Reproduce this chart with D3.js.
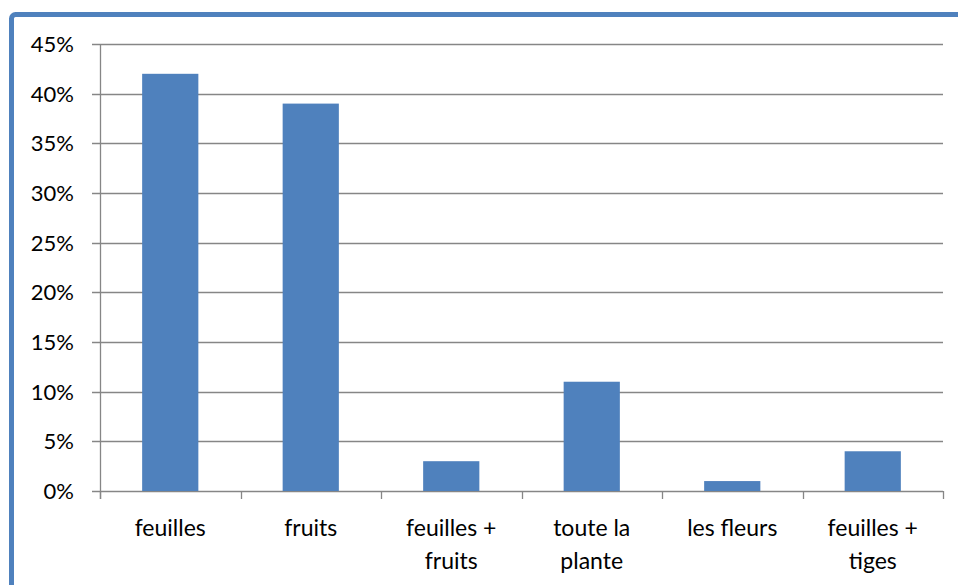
<!DOCTYPE html>
<html>
<head>
<meta charset="utf-8">
<script src="https://cdn.jsdelivr.net/npm/d3@7"></script>
<style>
  body { margin: 0; background: #fff; }
  text { font-family: Lato, "Open Sans", sans-serif; fill: #000; }
</style>
</head>
<body>
<div id="chart"></div>
<script>
const width = 958;
const height = 585;

const categories = [["feuilles"], ["fruits"], ["feuilles +", "fruits"], ["toute la", "plante"], ["les fleurs"], ["feuilles +", "tiges"]];
const values = [0.42, 0.39, 0.03, 0.11, 0.01, 0.04];
const yTicks = [0, 0.05, 0.10, 0.15, 0.20, 0.25, 0.30, 0.35, 0.40, 0.45];

const margin = { top: 44, right: 15, bottom: 94, left: 100 };

const svg = d3.select('#chart')
    .append('svg')
    .attr('width', width)
    .attr('height', height);

// frame (only top and left visible, rest runs off the page)
svg.append('rect')
    .attr('x', 11.5)
    .attr('y', 14.5)
    .attr('width', 1000)
    .attr('height', 1000)
    .attr('rx', 4)
    .attr('fill', 'none')
    .attr('stroke', '#4F81BD')
    .attr('stroke-width', 5);

const x = d3.scaleBand()
    .domain(d3.range(categories.length))
    .range([margin.left, width - margin.right])
    .paddingInner(0.6)
    .paddingOuter(0.3);

const xCat = d3.scaleBand()
    .domain(d3.range(categories.length))
    .range([margin.left, width - margin.right]);

const y = d3.scaleLinear()
    .domain([0, 0.45])
    .range([height - margin.bottom, margin.top]);

// gridlines
svg.append('g')
    .selectAll('line')
    .data(yTicks)
    .enter()
    .append('line')
    .attr('x1', margin.left - 8)
    .attr('x2', width - margin.right)
    .attr('y1', d => Math.round(y(d)) + 0.5)
    .attr('y2', d => Math.round(y(d)) + 0.5)
    .attr('stroke', '#868686')
    .attr('stroke-width', 1.3);

// bars
svg.append('g')
    .selectAll('rect')
    .data(values)
    .enter()
    .append('rect')
    .attr('x', (d, i) => x(i))
    .attr('y', d => y(d))
    .attr('width', x.bandwidth())
    .attr('height', d => y(0) - y(d))
    .attr('fill', '#4F81BD');

// y axis line
svg.append('line')
    .attr('x1', margin.left + 0.5)
    .attr('x2', margin.left + 0.5)
    .attr('y1', y(0.45))
    .attr('y2', y(0) + 8)
    .attr('stroke', '#868686')
    .attr('stroke-width', 1.3);

// x category ticks
const xTickPos = d3.range(categories.length + 1).map(i => i < categories.length ? xCat(i) : xCat(i - 1) + xCat.bandwidth());
svg.append('g')
    .selectAll('line')
    .data(xTickPos)
    .enter()
    .append('line')
    .attr('x1', d => Math.round(d) + 0.5)
    .attr('x2', d => Math.round(d) + 0.5)
    .attr('y1', y(0))
    .attr('y2', y(0) + 8)
    .attr('stroke', '#868686')
    .attr('stroke-width', 1.3);

// y tick labels
svg.append('g')
    .selectAll('text')
    .data(yTicks)
    .enter()
    .append('text')
    .attr('x', 74)
    .attr('y', d => y(d))
    .attr('dy', '0.36em')
    .attr('text-anchor', 'end')
    .attr('font-size', 22)
    .text(d => d3.format('.0%')(d));

// x labels
const labels = svg.append('g')
    .selectAll('text')
    .data(categories)
    .enter()
    .append('text')
    .attr('x', (d, i) => xCat(i) + xCat.bandwidth() / 2)
    .attr('y', 536)
    .attr('text-anchor', 'middle')
    .attr('font-size', 23);

labels.selectAll('tspan')
    .data(d => d)
    .enter()
    .append('tspan')
    .attr('x', function() { return this.parentNode.getAttribute('x'); })
    .attr('dy', (d, i) => i === 0 ? 0 : 33)
    .text(d => d);
</script>
</body>
</html>
